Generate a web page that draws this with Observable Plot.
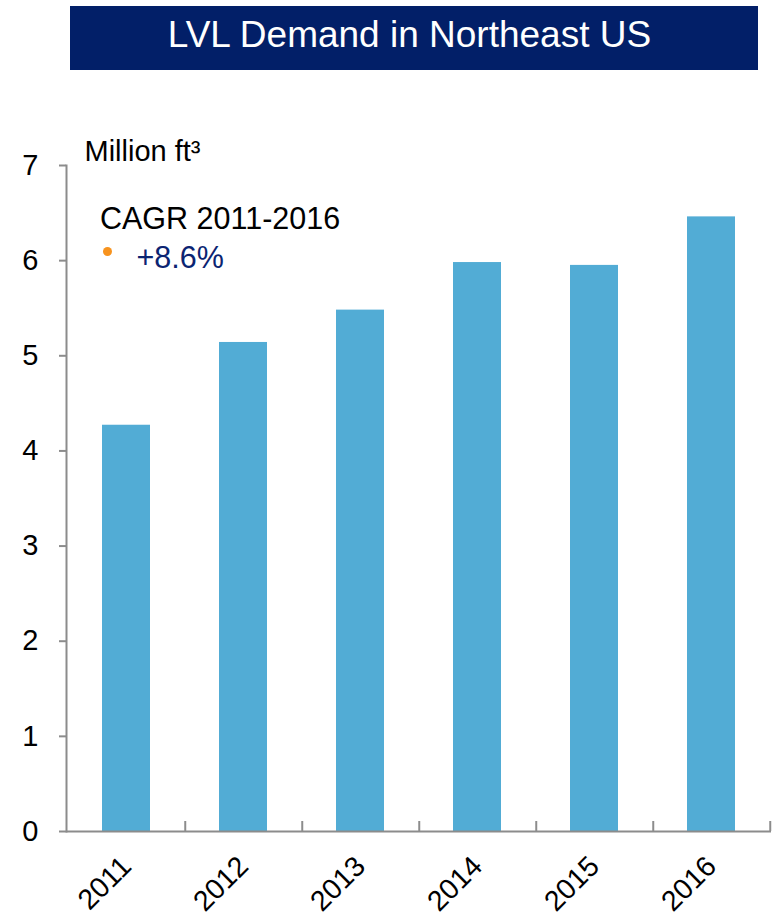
<!DOCTYPE html>
<html>
<head>
<meta charset="utf-8">
<script src="https://cdn.jsdelivr.net/npm/d3@7"></script>
<script src="https://cdn.jsdelivr.net/npm/@observablehq/plot@0.6"></script>
<style>
  html, body { margin: 0; padding: 0; background: #fff; }
  body { width: 773px; height: 919px; overflow: hidden; font-family: "Liberation Sans", Arial, sans-serif; }
  #title {
    margin: 6px 0 0 70px; width: 688px; height: 64px; background: #021f68; color: #fff;
    font-size: 37px; line-height: 58px; text-align: center; box-sizing: border-box; padding-right: 9px;
  }
  #chart svg { display: block; overflow: visible; }
</style>
</head>
<body>
<div id="title">LVL Demand in Northeast US</div>
<div id="chart"></div>
<script>
const years = ["2011", "2012", "2013", "2014", "2015", "2016"];
const demand = [4.27, 5.14, 5.48, 5.98, 5.95, 6.46];
const yTicks = [0, 1, 2, 3, 4, 5, 6, 7];
const unitLabel = ["Million ft\u00B3"];
const cagrLabel = ["CAGR 2011-2016"];
const cagrValue = ["+8.6%"];

const rows = years.map((year, i) => ({year, value: demand[i]}));

const W = 773, H = 849;
const mL = 66, mR = 2, mT = 95, mB = 88;
const step = (W - mL - mR) / years.length;
const gray = "#8c8c8c";

const chart = Plot.plot({
  width: W,
  height: H,
  marginLeft: mL,
  marginRight: mR,
  marginTop: mT,
  marginBottom: mB,
  style: {fontFamily: "'Liberation Sans', Arial, sans-serif", background: "white", color: "black"},
  x: {domain: years, paddingInner: 0.59, paddingOuter: 0.295, label: null},
  y: {domain: [0, 7], ticks: yTicks, label: null},
  marks: [
    Plot.barY(rows, {x: "year", y: "value", fill: "#52acd5"}),
    Plot.frame({anchor: "left", stroke: gray, strokeWidth: 2}),
    Plot.ruleY([0], {stroke: gray, strokeWidth: 2}),
    Plot.ruleX(years, {x: d => d, dx: step / 2, y1: 0, y2: 0.105, stroke: gray, strokeWidth: 2}),
    Plot.axisY({ticks: yTicks, tickFormat: d => String(d), tickSize: 7, tickPadding: 21, stroke: gray, strokeWidth: 2, fill: "black", fontSize: 29, label: null}),
    Plot.axisX({tickSize: 0, tickPadding: 30, tickRotate: -45, fontSize: 28.5, fill: "black", label: null}),
    Plot.text(unitLabel, {text: d => d, frameAnchor: "top-left", textAnchor: "start", lineAnchor: "middle", dx: 18, dy: -13.6, fontSize: 29, fill: "black"}),
    Plot.text(cagrLabel, {text: d => d, frameAnchor: "top-left", textAnchor: "start", lineAnchor: "middle", dx: 33.5, dy: 53.4, fontSize: 30.5, fill: "black"}),
    Plot.dot(cagrValue, {frameAnchor: "top-left", dx: 41, dy: 86, r: 4.5, fill: "#f7931e", stroke: null}),
    Plot.text(cagrValue, {text: d => d, frameAnchor: "top-left", textAnchor: "start", lineAnchor: "middle", dx: 70, dy: 92.4, fontSize: 30.5, fill: "#0b2472"})
  ]
});
document.getElementById("chart").appendChild(chart);
</script>
</body>
</html>
